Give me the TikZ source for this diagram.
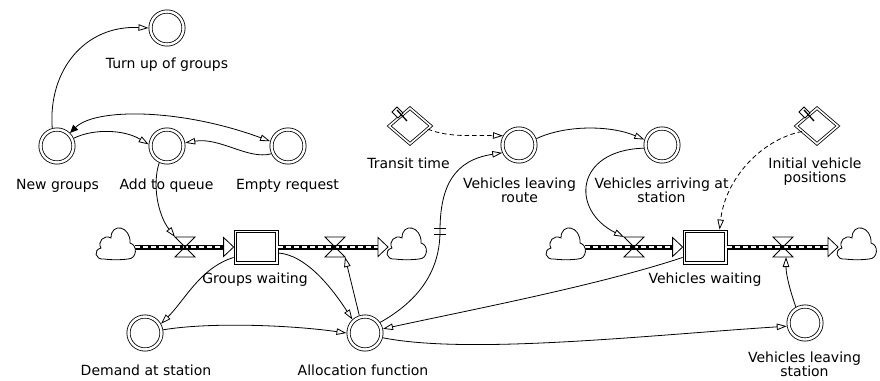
\documentclass[tikz,border=0pt]{standalone}
\usepackage{fontspec}
\setmainfont{DejaVu Sans}
\usetikzlibrary{arrows.meta,calc,shapes.geometric}
\tikzset{
  lw/.style={line width=0.8pt},
  aux/.style={circle,draw,lw,double,double distance=2.4pt,minimum size=33pt,inner sep=0pt,outer sep=2pt},
  stock/.style={rectangle,draw,lw,fill=white,minimum width=44pt,minimum height=34pt,inner sep=0pt,outer sep=0.4pt},
  cnst/.style={diamond,draw,lw,double,double distance=1.6pt,minimum width=42pt,minimum height=36pt,inner sep=0pt,fill=white},
  valve/.style={rectangle,minimum width=20pt,minimum height=20pt,inner sep=0pt,outer sep=0pt},
  cloudn/.style={rectangle,minimum width=38pt,minimum height=30pt,inner sep=0pt,outer sep=0pt},
  lbl/.style={font=\fontsize{14}{14.5}\selectfont,inner sep=0pt,anchor=base},
  lbltwo/.style={font=\fontsize{14}{14.5}\selectfont,inner sep=0pt,align=center,anchor=north},
  conn/.style={lw,-{Triangle[open,length=10pt,width=6.5pt]}},
  info/.style={conn,dash pattern=on 4.5pt off 3pt},
  pipe/.style={line width=5pt,postaction={draw=white,line width=1.8pt,dash pattern=on 5pt off 3pt}},
  pipehead/.style={lw,fill=white,draw=black},
  cloudp/.pic={\draw[lw,fill=white] (-12,12) .. controls (-4,13) and (4,13) .. (12,12)
     .. controls (21,12) and (22,-2) .. (14,-4)
     .. controls (15,-21) and (-5,-25) .. (-5,-9)
     .. controls (-12,-13) and (-19,-5) .. (-15,1)
     .. controls (-23,3) and (-21,13) .. (-12,12) -- cycle;}
}
\begin{document}
\begin{tikzpicture}[x=1pt,y=-1pt]
\fill[white] (0,0) rectangle (880,380);
\useasboundingbox (0,0) rectangle (880,380);

% clouds, valves, stocks
\node[cloudn] (c1) at (116,247) {};
\node[cloudn] (c2) at (407,247) {};
\node[cloudn] (c3) at (566,247) {};
\node[cloudn] (c4) at (857,247) {};
\node[valve] (v1) at (185,247) {};
\node[valve] (v2) at (335,247) {};
\node[valve] (v3) at (634,247) {};
\node[valve] (v4) at (783,247) {};
\node[stock] (gw) at (256,247) {};
\node[stock] (vw) at (705,247) {};
\foreach \s in {gw,vw} {
  \draw[lw] ($(\s.north west)+(3.2,3.2)$) rectangle ($(\s.south east)+(-3.2,-3.2)$);
}

% pipes
\draw[pipe] (c1.east) -- ($(gw.west)+(-10,0)$);
\draw[pipehead] ($(gw.west)+(-10,-9.5)$) -- (gw.west) -- ($(gw.west)+(-10,9.5)$) -- cycle;
\draw[pipe] (gw.east) -- ($(c2.west)+(-10,0)$);
\draw[pipehead] ($(c2.west)+(-10,-9.5)$) -- (c2.west) -- ($(c2.west)+(-10,9.5)$) -- cycle;
\draw[pipe] (c3.east) -- ($(vw.west)+(-10,0)$);
\draw[pipehead] ($(vw.west)+(-10,-9.5)$) -- (vw.west) -- ($(vw.west)+(-10,9.5)$) -- cycle;
\draw[pipe] (vw.east) -- ($(c4.west)+(-10,0)$);
\draw[pipehead] ($(c4.west)+(-10,-9.5)$) -- (c4.west) -- ($(c4.west)+(-10,9.5)$) -- cycle;

\foreach \c in {c1,c2,c3,c4} {\pic at (\c) {cloudp};}
\foreach \v in {v1,v2,v3,v4} {
  \draw[lw] (\v.north west) -- (\v.north east) -- (\v.center) -- cycle;
  \draw[lw] (\v.south west) -- (\v.south east) -- (\v.center) -- cycle;
}

% auxiliaries
\node[aux] (tg) at (167,28) {};
\node[aux] (ng) at (57,146) {};
\node[aux] (aq) at (167,146) {};
\node[aux] (er) at (288,146) {};
\node[aux] (vlr) at (519,145) {};
\node[aux] (vas) at (662,145) {};
\node[aux] (dem) at (145,333) {};
\node[aux] (af) at (365,333) {};
\node[aux] (vls) at (805,323) {};

% constants
\node[cnst] (tt) at (410,126) {};
\node[cnst] (ivp) at (817,126) {};
\foreach \c in {tt,ivp} {
  \draw[lw,fill=white] ($(\c)+(-18,-14)$) -- ($(\c)+(-13,-19)$) -- ($(\c)+(-7,-13)$) -- ($(\c)+(-12,-8)$) -- cycle;
  \draw[line width=1.3pt] ($(\c)+(-13,-16)$) -- ($(\c)+(-3,-5)$);
}

% connectors
\draw[conn] (ng.105) .. controls (48,70) and (85,25) .. (tg.west);
\draw[conn] (ng.25) .. controls (95,128) and (125,130) .. (aq.175);
\draw[lw,{Triangle[length=8pt,width=7pt]}-{Triangle[open,length=10pt,width=6.5pt]}] (ng.45) .. controls (95,108) and (180,108) .. (er.165);
\draw[conn] (er.205) .. controls (248,160) and (220,137) .. (aq.10);
\draw[conn] (aq.245) .. controls (152,185) and (158,215) .. (v1.north west);
\draw[conn] (gw.205) .. controls (200,268) and (185,300) .. (dem.30);
\draw[conn] (gw.-15) .. controls (305,255) and (330,285) .. (af.133);
\draw[conn] (af.108) -- (v2.south east);
\draw[conn] (dem.10) .. controls (210,322) and (290,325) .. (af.180);
\coordinate (dly) at (440,231);
\draw[conn] (af.35) .. controls (420,300) and (440,270) .. (dly) .. controls (440,185) and (455,160) .. (vlr.205);
\draw[lw] ($(dly)+(-6,-3)$) -- ($(dly)+(6,-3)$);
\draw[lw] ($(dly)+(-6,3)$) -- ($(dly)+(6,3)$);
\draw[conn] (vw.205) .. controls (600,285) and (470,310) .. (af.13);
\draw[conn] (af.-15) .. controls (470,355) and (650,335) .. (vls.190);
\draw[conn] (vls.120) .. controls (790,290) and (786,275) .. ($(v4.south)+(3,0)$);
\draw[info] (tt.-10) .. controls (450,138) and (475,135) .. (vlr.150);
\draw[conn] (vlr.20) .. controls (565,125) and (610,125) .. (vas.163);
\draw[conn] (vas.190) .. controls (575,150) and (570,210) .. (v3.north west);
\draw[info] (ivp.200) .. controls (760,140) and (725,180) .. (vw.50);

% labels
\node[lbl] (tgL) at (167,68) {Turn up of groups};
\node[lbl] (ngL) at (57.5,189) {New groups};
\node[lbl] (aqL) at (166.5,189) {Add to queue};
\node[lbl] (erL) at (287.5,189) {Empty request};
\node[lbl] (ttL) at (408.5,168) {Transit time};
\node[lbltwo] (vlrL) at (519.5,177.4) {Vehicles leaving\\route};
\node[lbltwo] (vasL) at (661.5,177.4) {Vehicles arriving at\\station};
\node[lbltwo] (ivpL) at (815,157.4) {Initial vehicle\\positions};
\node[lbl] (gwL) at (255,283) {Groups waiting};
\node[lbl] (vwL) at (705,283) {Vehicles waiting};
\node[lbl] (demL) at (146,375) {Demand at station};
\node[lbl] (afL) at (363,375) {Allocation function};
\node[lbltwo,font=\fontsize{14}{14}\selectfont] (vlsL) at (804.5,352) {Vehicles leaving\\station};
\end{tikzpicture}
\end{document}
